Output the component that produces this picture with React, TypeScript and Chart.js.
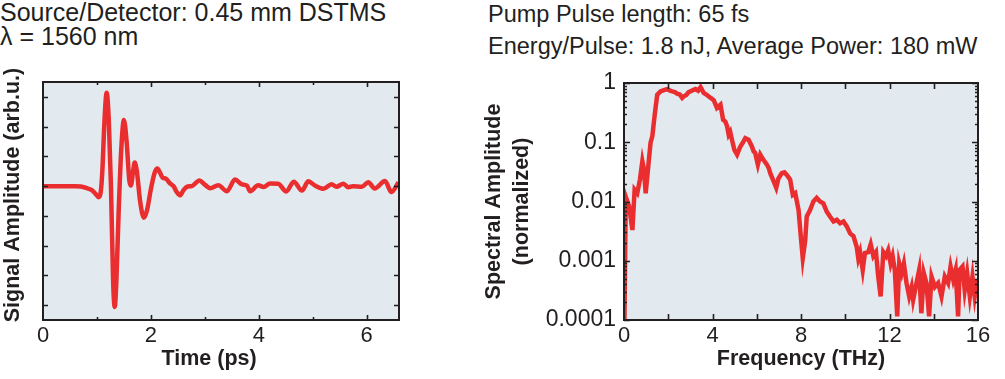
import React, { useEffect, useRef } from "react";
import { Chart, registerables } from "chart.js";

Chart.register(...registerables);

// ---- Data ----
const timePs = [
  0, 0.3, 0.6, 0.7, 0.8, 0.9, 0.97, 1.03, 1.07, 1.1, 1.14, 1.18, 1.22, 1.26, 1.3, 1.33, 1.36, 1.4, 1.45,
  1.5, 1.55, 1.6, 1.63, 1.67, 1.7, 1.74, 1.8, 1.87, 1.93, 2.0, 2.07, 2.12, 2.17, 2.22, 2.28, 2.35, 2.42,
  2.48, 2.54, 2.6, 2.67, 2.76, 2.9, 3.0, 3.1, 3.25, 3.41, 3.56, 3.69, 3.78, 3.84, 3.99, 4.09, 4.21, 4.36,
  4.51, 4.65, 4.8, 4.92, 5.04, 5.2, 5.35, 5.44, 5.57, 5.66, 5.75, 5.91, 6.03, 6.15, 6.34, 6.46, 6.59,
];
const signalAmp = [
  0, 0, 0, -0.01, -0.06, -0.13, -0.25, -0.37, -0.2, 0.5, 2.2, 3.14, 2.2, 0, -3.2, -4.06, -3.2, -1.0, 1.2,
  2.22, 1.5, 0.2, 0.02, 0.5, 0.79, 0.5, -0.5, -1.06, -0.8, -0.1, 0.45, 0.59, 0.45, 0.28, 0.25, 0.1, 0.0,
  -0.2, -0.31, -0.15, -0.02, 0.0, 0.19, 0.05, -0.07, 0.03, -0.17, 0.22, 0.06, 0.02, -0.17, 0.03, -0.03, 0.09, 0.08,
  -0.18, 0.15, -0.15, 0.16, 0.02, -0.09, 0.06, -0.02, 0.08, -0.04, 0.0, -0.02, 0.13, -0.08, 0.17, -0.2, 0.13,
];

const freqTHz = [
  0.02, 0.08, 0.23, 0.38, 0.48, 0.6, 0.72, 0.83, 0.9, 0.98, 1.05, 1.2, 1.28, 1.38, 1.5, 1.65, 1.8, 1.95, 2.08, 2.18,
  2.3, 2.4, 2.52, 2.63, 2.72, 2.82, 2.92, 3.0, 3.12, 3.23, 3.35, 3.46, 3.6, 3.72, 3.83, 3.95, 4.06, 4.2, 4.36, 4.48,
  4.58, 4.66, 4.73, 4.8, 4.88, 4.99, 5.11, 5.26, 5.38, 5.48, 5.63, 5.78, 5.86, 5.93, 6.05, 6.16, 6.31, 6.46, 6.55, 6.61,
  6.76, 6.88, 6.98, 7.13, 7.25, 7.36, 7.51, 7.63, 7.74, 7.89, 7.99, 8.08, 8.19, 8.26, 8.41, 8.56, 8.71, 8.86, 9.01,
  9.16, 9.31, 9.47, 9.62, 9.77, 9.92, 10.07, 10.22, 10.37, 10.52, 10.59, 10.67, 10.79, 10.89, 11.04, 11.15, 11.27,
  11.39, 11.49, 11.6, 11.72, 11.84, 11.94, 12.05, 12.14, 12.24, 12.35, 12.44, 12.55, 12.65, 12.77, 12.89, 13.0, 13.07,
  13.22, 13.34, 13.44, 13.55, 13.67, 13.79, 13.9, 14.05, 14.2, 14.35, 14.5, 14.65, 14.76, 14.88, 14.99, 15.1, 15.17,
  15.3, 15.4, 15.51, 15.63, 15.75, 15.85, 15.96,
];
const spectralAmp = [
  0.0001, 0.012, 0.0083, 0.0033, 0.0158, 0.0138, 0.0234, 0.048, 0.035, 0.0138, 0.026, 0.098, 0.126, 0.275, 0.63, 0.72,
  0.76, 0.79, 0.74, 0.72, 0.7, 0.66, 0.64, 0.56, 0.6, 0.63, 0.7, 0.72, 0.76, 0.79, 0.74, 0.85, 0.68, 0.64, 0.59,
  0.55, 0.51, 0.38, 0.43, 0.24, 0.224, 0.186, 0.135, 0.15, 0.11, 0.074, 0.062, 0.085, 0.1, 0.117, 0.11, 0.085,
  0.07, 0.066, 0.042, 0.062, 0.05, 0.042, 0.036, 0.03, 0.022, 0.017, 0.0245, 0.03, 0.031, 0.028, 0.0234, 0.0129,
  0.0138, 0.0072, 0.0026, 0.0011, 0.0022, 0.0056, 0.0072, 0.01, 0.0115, 0.01, 0.0093, 0.0068, 0.0056, 0.0046,
  0.0049, 0.0043, 0.0046, 0.0038, 0.0029, 0.0026, 0.0017, 0.0011, 0.0014, 0.0007, 0.00135, 0.0014, 0.0019, 0.0012,
  0.0014, 0.00054, 0.00025, 0.0014, 0.0012, 0.0015, 0.0009, 0.0012, 0.0007, 0.000115, 0.0009, 0.00062, 0.0009,
  0.00042, 0.00025, 0.00036, 0.00022, 0.00042, 0.0007, 0.00013, 0.00062, 0.00042, 0.000115, 0.00054, 0.00036,
  0.00042, 0.00025, 0.00054, 0.00042, 0.0008, 0.00048, 0.0007, 0.000115, 0.0007, 0.0008, 0.00032, 0.00062,
  0.00025, 0.00054, 0.00025, 0.00048,
];

const timeTickLabels = [0, 2, 4, 6];
const timeMajorMarks = [2, 4, 6];
const timeMinorMarks = [1, 3, 5];
const signalTickMarks = [-4, -3, -2, -1, 0, 1, 2, 3];
const freqTickLabels = [0, 4, 8, 12, 16];
const freqTickMarks = [2, 4, 6, 8, 10, 12, 14];
const decadeTicks = [0.0001, 0.001, 0.01, 0.1, 1];

const RED = "rgb(234,46,48)";
const BG = "rgb(226,234,239)";
const INK = "#231f20";
const FONT = "'Liberation Sans', Arial, Helvetica, sans-serif";

function logMinor(): number[] {
  const out: number[] = [];
  for (let e = -4; e < 0; e++) {
    for (let m = 2; m <= 9; m++) out.push(m * Math.pow(10, e));
  }
  return out;
}

function framePlugin(o: {
  xMajor: number[];
  xMinor: number[];
  yMajor: number[];
  yMinor: number[];
  major: number;
  minor: number;
}) {
  return {
    id: "frameTicks",
    beforeDraw(chart: any) {
      const { ctx, chartArea: a } = chart;
      ctx.save();
      ctx.fillStyle = BG;
      ctx.fillRect(a.left, a.top, a.right - a.left, a.bottom - a.top);
      ctx.restore();
    },
    afterDatasetsDraw(chart: any) {
      const { ctx, chartArea: a, scales } = chart;
      const xs = scales.x;
      const ys = scales.y;
      ctx.save();
      ctx.strokeStyle = INK;
      ctx.lineWidth = 1.6;
      ctx.beginPath();
      const xm = (vals: number[], len: number) => {
        for (const v of vals) {
          const px = Math.round(xs.getPixelForValue(v)) + 0.5;
          ctx.moveTo(px, a.bottom);
          ctx.lineTo(px, a.bottom - len);
          ctx.moveTo(px, a.top);
          ctx.lineTo(px, a.top + len);
        }
      };
      const ym = (vals: number[], len: number) => {
        for (const v of vals) {
          const py = Math.round(ys.getPixelForValue(v)) + 0.5;
          ctx.moveTo(a.left, py);
          ctx.lineTo(a.left + len, py);
          ctx.moveTo(a.right, py);
          ctx.lineTo(a.right - len, py);
        }
      };
      xm(o.xMajor, o.major);
      xm(o.xMinor, o.minor);
      ym(o.yMajor, o.major);
      ym(o.yMinor, o.minor);
      ctx.stroke();
      ctx.lineWidth = 2;
      ctx.strokeRect(a.left, a.top, a.right - a.left, a.bottom - a.top);
      ctx.restore();
    },
  };
}

function ChartCanvas({ config, style, width, height }: any) {
  const ref = useRef<HTMLCanvasElement | null>(null);
  useEffect(() => {
    if (!ref.current) return;
    const chart = new Chart(ref.current, config());
    return () => chart.destroy();
  }, []);
  return <canvas ref={ref} width={width} height={height} style={{ position: "absolute", width, height, ...style }} />;
}

const titleFont = { family: FONT, size: 21.5, weight: "bold" as const };
const tickFont = { family: FONT, size: 22 };

const leftConfig = () => ({
  type: "line",
  data: {
    datasets: [
      {
        data: timePs.map((t, i) => ({ x: t, y: signalAmp[i] })),
        borderColor: RED,
        borderWidth: 4.5,
        pointRadius: 0,
        fill: false,
        cubicInterpolationMode: "monotone",
      },
    ],
  },
  options: {
    animation: false,
    responsive: false,
    maintainAspectRatio: false,
    layout: { padding: { top: 22, right: 21, left: 0, bottom: 0 } },
    plugins: { legend: { display: false }, tooltip: { enabled: false } },
    scales: {
      x: {
        type: "linear",
        min: 0,
        max: 6.6,
        border: { display: false },
        grid: { display: false, drawTicks: false },
        afterBuildTicks: (s: any) => {
          s.ticks = timeTickLabels.map((v) => ({ value: v }));
        },
        ticks: { font: tickFont, color: INK, padding: 3, maxRotation: 0, autoSkip: false },
        title: {
          display: true,
          text: "Time (ps)    ",
          font: titleFont,
          color: INK,
          padding: { top: 0, bottom: 7 },
        },
        afterFit: (s: any) => {
          s.height = 59;
        },
      },
      y: {
        type: "linear",
        min: -4.5,
        max: 3.5,
        border: { display: false },
        grid: { display: false, drawTicks: false },
        ticks: { display: false },
        title: {
          display: true,
          text: "  Signal Amplitude (arb.u.)",
          font: titleFont,
          color: INK,
          padding: { top: 0, bottom: 0 },
        },
        afterFit: (s: any) => {
          s.width = 43;
        },
      },
    },
  },
  plugins: [
    framePlugin({
      xMajor: timeMajorMarks,
      xMinor: timeMinorMarks,
      yMajor: signalTickMarks,
      yMinor: [],
      major: 5,
      minor: 3,
    }),
  ],
});

const rightConfig = () => ({
  type: "line",
  data: {
    datasets: [
      {
        data: freqTHz.map((f, i) => ({ x: f, y: spectralAmp[i] })),
        borderColor: RED,
        borderWidth: 4.5,
        pointRadius: 0,
        fill: false,
        tension: 0,
      },
    ],
  },
  options: {
    animation: false,
    responsive: false,
    maintainAspectRatio: false,
    layout: { padding: { top: 23, right: 27, left: 0, bottom: 0 } },
    plugins: { legend: { display: false }, tooltip: { enabled: false } },
    scales: {
      x: {
        type: "linear",
        min: 0,
        max: 16,
        border: { display: false },
        grid: { display: false, drawTicks: false },
        afterBuildTicks: (s: any) => {
          s.ticks = freqTickLabels.map((v) => ({ value: v }));
        },
        ticks: { font: tickFont, color: INK, padding: 3, maxRotation: 0, autoSkip: false },
        title: {
          display: true,
          text: "Frequency (THz)",
          font: titleFont,
          color: INK,
          padding: { top: 0, bottom: 7 },
        },
        afterFit: (s: any) => {
          s.height = 59;
        },
      },
      y: {
        type: "logarithmic",
        min: 0.0001,
        max: 1,
        border: { display: false },
        grid: { display: false, drawTicks: false },
        afterBuildTicks: (s: any) => {
          s.ticks = decadeTicks.map((v) => ({ value: v }));
        },
        ticks: {
          font: { family: FONT, size: 23 },
          color: INK,
          padding: 8,
          autoSkip: false,
          callback: (v: any) => String(v),
        },
        title: {
          display: true,
          text: ["Spectral Amplitude", "(normalized)"],
          font: { ...titleFont, lineHeight: 1.3 },
          color: INK,
          padding: { top: 0, bottom: 0 },
        },
        afterFit: (s: any) => {
          s.width = 144;
        },
      },
    },
  },
  plugins: [
    framePlugin({
      xMajor: freqTickMarks,
      xMinor: [],
      yMajor: decadeTicks,
      yMinor: logMinor(),
      major: 6,
      minor: 3,
    }),
  ],
});

const headerStyle: React.CSSProperties = {
  position: "absolute",
  fontFamily: FONT,
  lineHeight: 1,
  color: INK,
  whiteSpace: "nowrap",
  margin: 0,
};

export default function App() {
  return (
    <div
      style={{ position: "absolute", left: 0, top: 0, width: 1005, height: 379, background: "#fff", overflow: "hidden" }}
    >
      <div style={{ ...headerStyle, fontSize: 25, left: 0, top: 0 }}>Source/Detector: 0.45 mm DSTMS</div>
      <div style={{ ...headerStyle, fontSize: 25, left: 0, top: 24 }}>λ = 1560 nm</div>
      <div style={{ ...headerStyle, fontSize: 23.5, left: 488, top: 3 }}>Pump Pulse length: 65 fs</div>
      <div style={{ ...headerStyle, fontSize: 23.5, left: 488, top: 35 }}>
        Energy/Pulse: 1.8 nJ, Average Power: 180 mW
      </div>
      <ChartCanvas config={leftConfig} width={420} height={319} style={{ left: 0, top: 60 }} />
      <ChartCanvas config={rightConfig} width={525} height={319} style={{ left: 480, top: 60 }} />
    </div>
  );
}
